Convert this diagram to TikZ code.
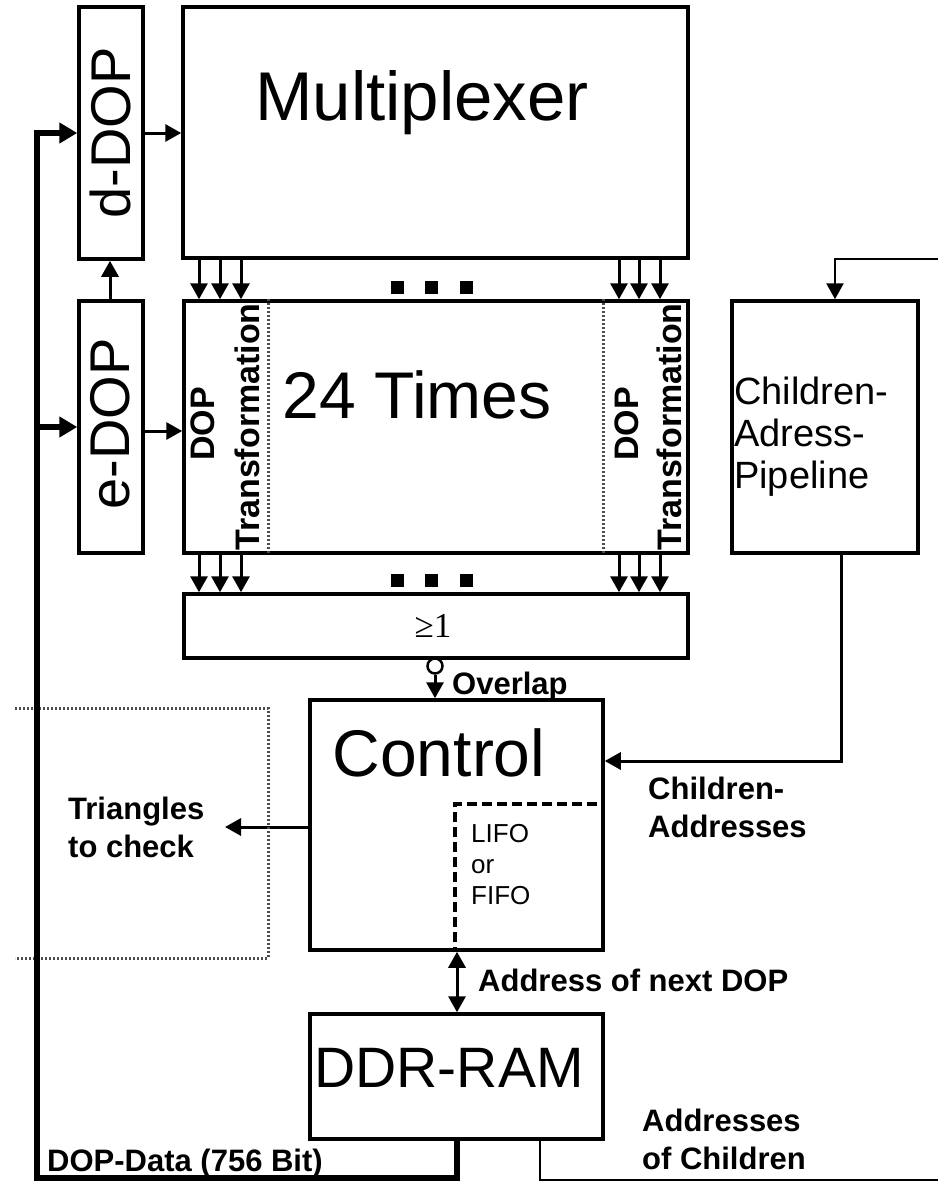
\documentclass[tikz,border=0pt]{standalone}
\usepackage{fontspec}
\setmainfont{Liberation Sans}
\newfontfamily\seriffont{Liberation Serif}
\usetikzlibrary{arrows.meta,calc}
\begin{document}
\begin{tikzpicture}[x=1pt,y=-1pt,
  box/.style={draw,line width=3.5pt,inner sep=0pt,rectangle},
  arr/.style={line width=3pt,-{Triangle[length=16pt,width=17pt]}},
  darr/.style={line width=3pt,{Triangle[length=16pt,width=17pt]}-{Triangle[length=16pt,width=17pt]}},
  busarr/.style={line width=5.5pt,-{Triangle[length=18pt,width=20pt]}},
  bus/.style={line width=6.5pt},
  lbl/.style={font=\fontsize{31}{38}\selectfont\bfseries,align=left,inner sep=0pt},
  big/.style={font=\fontsize{68}{72}\selectfont,inner sep=0pt},
  rot/.style={rotate=90,inner sep=0pt},
  dotl/.style={draw=black!70,line width=3pt,dash pattern=on 2pt off 2pt},
]
\useasboundingbox[fill=white] (0,0) rectangle (938,1181);

% boxes
\node[box,minimum width=64pt,minimum height=252pt] (ddop) at (111,133) {};
\node[box,minimum width=505pt,minimum height=251pt] (mux) at (435.5,132.5) {};
\node[box,minimum width=64pt,minimum height=252pt] (edop) at (111,427) {};
\node[box,minimum width=504pt,minimum height=252pt] (times) at (436,427) {};
\node[box,minimum width=504pt,minimum height=64pt] (orbox) at (436,626) {};
\node[box,minimum width=293pt,minimum height=250pt] (control) at (456.5,825) {};
\node[box,minimum width=293pt,minimum height=125pt] (ddr) at (456.5,1076.5) {};
\node[box,minimum width=186pt,minimum height=252pt] (cap) at (825,427) {};
\node[draw,line width=4pt,dash pattern=on 10pt off 5pt,inner sep=0pt,minimum width=148pt,minimum height=146pt] (lifo) at (529,877) {};

% texts
\node[rot,font=\fontsize{56}{60}\selectfont] (ddoptxt) at (110,133) {d-DOP};
\node[rot,font=\fontsize{56}{60}\selectfont] (edoptxt) at (110,424) {e-DOP};
\node[big,font=\fontsize{69}{72}\selectfont] (muxtxt) at (422,103) {Multiplexer};
\node[big,font=\fontsize{66}{72}\selectfont] (timestxt) at (417,395) {24 Times};
\node[big,font=\fontsize{66}{72}\selectfont] (controltxt) at (439,753) {Control};
\node[big,font=\fontsize{57}{62}\selectfont] (ddrtxt) at (449,1068) {DDR-RAM};
\node[font=\fontsize{38}{42}\selectfont,align=left,anchor=west,inner sep=0pt] (captxt) at (734,437) {Children-\\Adress-\\Pipeline};
\node[font=\fontsize{26}{31}\selectfont,align=left,anchor=west,inner sep=0pt] (lifotxt) at (471,865) {LIFO\\or\\FIFO};
\node[font=\seriffont\fontsize{35}{38}\selectfont,inner sep=0pt] (ortxt) at (433,626) {≥1};

% DOP transformation labels
\node[rot,font=\fontsize{34}{38}\selectfont\bfseries] (dl1) at (203,424) {DOP};
\node[rot,font=\fontsize{34}{38}\selectfont\bfseries] (dl2) at (247,427) {Transformation};
\node[rot,font=\fontsize{34}{38}\selectfont\bfseries] (dr1) at (627,424) {DOP};
\node[rot,font=\fontsize{34}{38}\selectfont\bfseries] (dr2) at (669,427) {Transformation};
\draw[dotl] (times.north -| 268,0) -- (times.south -| 268,0);
\draw[dotl] (times.north -| 603,0) -- (times.south -| 603,0);

% labels
\node[lbl,anchor=west] (ovl) at (452,686) {Overlap};
\node[lbl,anchor=west] (tri) at (68,827) {Triangles\\to check};
\node[lbl,anchor=west] (chad) at (648,807) {Children-\\Addresses};
\node[lbl,anchor=west] (anext) at (478,980) {Address of next DOP};
\node[lbl,anchor=west] (aoc) at (642,1139) {Addresses\\of Children};
\node[lbl,anchor=west] (dopdata) at (47,1163) {DOP-Data (756 Bit)};

% arrows multiplexer -> times -> or
\foreach \x in {199,220,241,619,639,660} {
  \draw[arr] (mux.south -| \x,0) -- (times.north -| \x,0);
  \draw[arr] (times.south -| \x,0) -- (orbox.north -| \x,0);
}
\foreach \x in {397,431,466} {
  \fill (\x-6.5,280.5) rectangle (\x+6.5,293.5);
  \fill (\x-6.5,573.5) rectangle (\x+6.5,586.5);
}

% dop arrows
\draw[arr] (ddop.east) -- (mux.west |- ddop.east);
\draw[arr] ([yshift=-4pt]edop.east) -- (times.west |- 0,431);
\draw[arr] (edop.north -| 110,0) -- (ddop.south -| 110,0);

% overlap
\node[draw,circle,line width=2.5pt,minimum size=15pt,inner sep=0pt] (inv) at (435,666) {};
\draw[arr] (inv.south) -- (control.north -| inv.south);

% control connections
\draw[arr] (control.west |- 0,827) -- (225,827);
\draw[darr] (control.south -| 457,0) -- (ddr.north -| 457,0);

% children pipeline
\coordinate (topin) at (938,259);
\draw[arr,line width=2.5pt] (topin) -| ([xshift=10pt]cap.north);
\draw[arr] ([xshift=16pt]cap.south) |- ([yshift=64pt]control.east);

% dotted triangles box
\draw[dotl] (15,708) -- (268,708) -- (268,958) -- (15,958);

% DDR outputs and bus
\coordinate (busbot) at (37,1178);
\coordinate (ddrrt) at (938,1180);
\draw[bus] (ddr.south -| 457,0) |- (busbot) -- (37,130);
\draw[busarr] (37,133) -- (ddop.west);
\draw[busarr] (37,427) -- (edop.west);
\draw[line width=2.5pt] (ddr.south -| 540,0) |- (ddrrt);
\end{tikzpicture}
\end{document}
